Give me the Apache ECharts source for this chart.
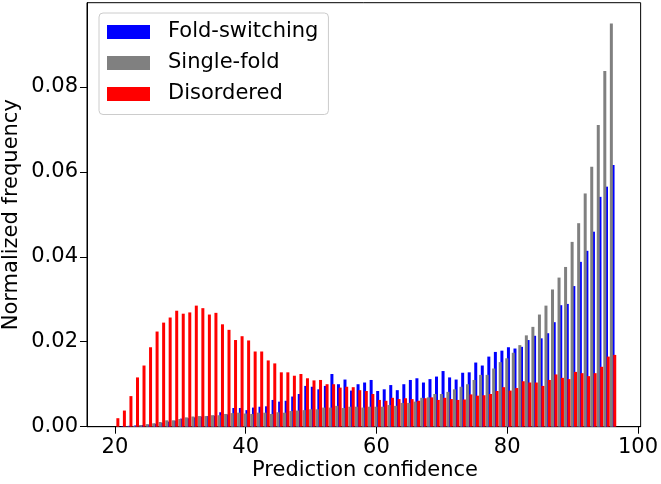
<!DOCTYPE html>
<html>
<head>
<meta charset="utf-8">
<script src="https://cdn.jsdelivr.net/npm/echarts@6/dist/echarts.min.js"></script>
<style>
html,body{margin:0;padding:0;background:#fff;}
#chart{width:661px;height:484px;}
</style>
</head>
<body>
<div id="chart"></div>
<script>
// Histogram bins (left edge of each 1-unit bin of "Prediction confidence")
const bins = [20,21,22,23,24,25,26,27,28,29,30,31,32,33,34,35,36,37,38,39,40,41,42,43,44,45,46,47,48,49,50,
  51,52,53,54,55,56,57,58,59,60,61,62,63,64,65,66,67,68,69,70,71,72,73,74,75,76,77,78,79,80,
  81,82,83,84,85,86,87,88,89,90,91,92,93,94,95,96];

const foldSwitching = [0,0.0001,0.0002,0.0003,0.0004,0.0005,0.0007,0.0009,0.0012,0.0014,
  0.0019,0.0020,0.0022,0.0024,0.0025,0.0026,0.0034,0.0029,0.0044,0.0044,
  0.0039,0.0045,0.0047,0.0048,0.0063,0.0059,0.0061,0.0071,0.0077,0.0096,
  0.0094,0.0088,0.0096,0.0124,0.0100,0.0111,0.0085,0.0100,0.0104,0.0110,
  0.0084,0.0088,0.0098,0.0086,0.0100,0.0110,0.0114,0.0104,0.0112,0.0118,
  0.0131,0.0116,0.0111,0.0127,0.0128,0.0151,0.0144,0.0165,0.0176,0.0179,
  0.0187,0.0184,0.0188,0.0204,0.0214,0.0208,0.0220,0.0246,0.0286,0.0289,
  0.0331,0.0388,0.0414,0.0459,0.0541,0.0565,0.0616];

const singleFold = [0,0,0.0001,0.0002,0.0004,0.0006,0.0008,0.0011,0.0015,0.0015,
  0.0018,0.0022,0.0024,0.0025,0.0025,0.0027,0.0027,0.0030,0.0032,0.0033,
  0.0031,0.0030,0.0033,0.0033,0.0030,0.0034,0.0033,0.0037,0.0038,0.0039,
  0.0041,0.0041,0.0045,0.0045,0.0049,0.0044,0.0047,0.0047,0.0045,0.0047,
  0.0047,0.0047,0.0051,0.0049,0.0056,0.0056,0.0059,0.0068,0.0069,0.0077,
  0.0077,0.0082,0.0088,0.0094,0.0100,0.0110,0.0122,0.0122,0.0137,0.0152,
  0.0161,0.0174,0.0192,0.0215,0.0235,0.0264,0.0285,0.0323,0.0351,0.0376,
  0.0435,0.0479,0.0549,0.0612,0.0710,0.0837,0.0949];

const disordered = [0.0020,0.0038,0.0072,0.0116,0.0144,0.0187,0.0224,0.0245,0.0257,0.0273,
  0.0266,0.0269,0.0285,0.0279,0.0264,0.0268,0.0241,0.0228,0.0204,0.0213,
  0.0203,0.0177,0.0177,0.0156,0.0149,0.0128,0.0128,0.0120,0.0124,0.0114,
  0.0109,0.0110,0.0100,0.0100,0.0092,0.0094,0.0093,0.0086,0.0084,0.0077,
  0.0063,0.0061,0.0068,0.0065,0.0067,0.0065,0.0061,0.0067,0.0069,0.0063,
  0.0068,0.0065,0.0063,0.0064,0.0076,0.0073,0.0074,0.0077,0.0084,0.0093,
  0.0085,0.0091,0.0107,0.0104,0.0104,0.0096,0.0110,0.0123,0.0115,0.0112,
  0.0129,0.0126,0.0119,0.0126,0.0141,0.0165,0.0169];

const xTicks = [20, 40, 60, 80, 100];
const yTicks = [0, 0.02, 0.04, 0.06, 0.08];
const seriesNames = ['Fold-switching', 'Single-fold', 'Disordered'];
const xTitle = 'Prediction confidence';
const yTitle = 'Normalized frequency';

const FONT = 'DejaVu Sans';
const pair = (vals, off) => vals.map((v, i) => [bins[i] + off, v]);

const chart = echarts.init(document.getElementById('chart'), null, {renderer: 'canvas'});
const barBase = {type: 'bar', barWidth: 3, barGap: '-100%', large: false};
chart.setOption({
  animation: false,
  backgroundColor: '#ffffff',
  textStyle: {fontFamily: FONT},
  grid: {left: 87, right: 18.3, top: 2.7, bottom: 57.3, show: true, borderColor: '#000', borderWidth: 1, containLabel: false},
  legend: {
    orient: 'vertical', left: 99, top: 13,
    data: seriesNames,
    icon: 'rect', itemWidth: 43, itemHeight: 14, itemGap: 10,
    padding: [8.5, 10, 10, 8],
    backgroundColor: 'rgba(255,255,255,0.8)',
    borderColor: '#cccccc', borderWidth: 1, borderRadius: 4,
    textStyle: {fontFamily: FONT, fontSize: 21, color: '#000', lineHeight: 21, padding: [0, 0, 0, 13]}
  },
  graphic: [
    {type: 'text', x: 365, y: 471, silent: true,
      style: {text: xTitle, font: '21px "DejaVu Sans"', fill: '#000', align: 'center', verticalAlign: 'middle'}},
    {type: 'text', x: 12, y: 214.7, rotation: Math.PI / 2, silent: true,
      style: {text: yTitle, font: '21px "DejaVu Sans"', fill: '#000', align: 'center', verticalAlign: 'middle'}}
  ],
  xAxis: {
    type: 'value', min: 15.73, max: 100.41,
    axisLine: {show: true, lineStyle: {color: '#000', width: 1}},
    axisTick: {show: true, length: 7, lineStyle: {color: '#000'}, customValues: xTicks},
    axisLabel: {fontFamily: FONT, fontSize: 21, color: '#000', margin: 10, customValues: xTicks},
    splitLine: {show: false}
  },
  yAxis: {
    type: 'value', min: 0, max: 0.0998,
    axisLine: {show: true, lineStyle: {color: '#000', width: 1}},
    axisTick: {show: true, length: 7, lineStyle: {color: '#000'}, customValues: yTicks},
    axisLabel: {fontFamily: FONT, fontSize: 21, color: '#000', margin: 9, customValues: yTicks,
      formatter: v => Number(v).toFixed(2)},
    splitLine: {show: false}
  },
  series: [
    Object.assign({}, barBase, {name: seriesNames[0], itemStyle: {color: '#0000ff'}, data: pair(foldSwitching, 0.19)}),
    Object.assign({}, barBase, {name: seriesNames[1], itemStyle: {color: '#808080'}, data: pair(singleFold, -0.07)}),
    Object.assign({}, barBase, {name: seriesNames[2], itemStyle: {color: '#ff0000'}, data: pair(disordered, 0.45)})
  ]
});
</script>
</body>
</html>
